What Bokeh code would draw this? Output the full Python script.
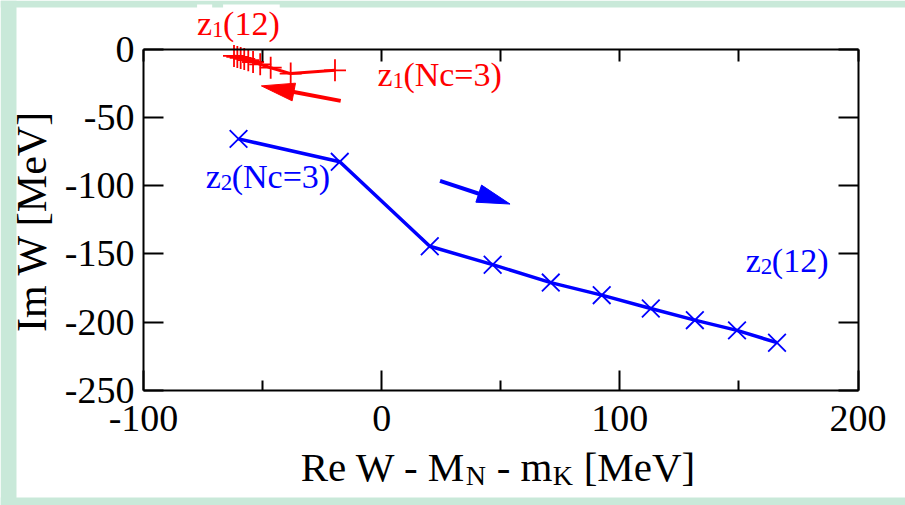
import math
from bokeh.plotting import figure
from bokeh.models import LinearAxis, FixedTicker, Range1d, Label, BoxAnnotation
from bokeh.embed import file_html
from bokeh.resources import INLINE

# ---------------- data ----------------
nc = [3, 4, 5, 6, 7, 8, 9, 10, 11, 12]
z1_re = [-19.6, -38.2, -46.6, -51.0, -54.0, -56.0, -57.7, -59.2, -60.6, -62.0]
z1_im = [-15.6, -18.0, -13.7, -11.2, -9.5, -8.2, -7.3, -6.5, -5.8, -5.1]
z2_re = [-60.1, -17.6, 20.2, 46.6, 71.0, 92.4, 113.0, 131.5, 149.2, 166.0]
z2_im = [-65.8, -82.6, -144.4, -157.9, -171.0, -180.2, -190.0, -198.5, -206.0, -215.0]

x_ticks = [-100, 0, 100, 200]
x_minor = [-50, 50, 150]
x_top_ticks = [-100, -50, 0, 50, 100, 150, 200]
y_ticks = [-250, -200, -150, -100, -50, 0]

# arrows: (tail, tip)
red_arrow = ((-17.2, -38.0), (-50.5, -27.0))
blue_arrow = ((24.5, -96.5), (53.9, -113.5))

# label anchors (data units)
lbl_z1_12 = (-77.5, 9.5)
lbl_z1_nc3 = (-1.8, -28.3)
lbl_z2_nc3 = (-73.9, -103.1)
lbl_z2_12 = (152.9, -164.5)
xlabel_anchor = (-34.0, -320.9)
ylabel_anchor = (-139.9, -126.0)

# ---------------- style / layout ----------------
FONT = "Liberation Serif"
RED = "#ff0000"
BLUE = "#0000ff"
GREEN_BG = "#c9e9d9"
X0, X1 = -100, 200
Y0, Y1 = -250, 0
FIG_W, FIG_H = 905, 505
BOX_L, BOX_R, BOX_T, BOX_B = 143.0, 857.5, 48.5, 390.0   # plot box inside the figure (px)
BAND_TOP, BAND_LEFT, BAND_BOTTOM = 7, 16, 8              # green page frame (px)
SX = (BOX_R - BOX_L) / (X1 - X0)
SY = (BOX_B - BOX_T) / (Y1 - Y0)
LBL_LIFT = 13      # px correction of text baseline for in-chart labels
XLBL_LIFT = 20
YLBL_SHIFT = -16

x_range = Range1d(X0 - BOX_L / SX, X1 + (FIG_W - BOX_R) / SX)
y_range = Range1d(Y0 - (FIG_H - BOX_B) / SY, Y1 + BOX_T / SY)

p = figure(width=FIG_W, height=FIG_H, x_range=x_range, y_range=y_range,
           output_backend="svg", toolbar_location=None,
           x_axis_location=None, y_axis_location=None, min_border=0)
p.background_fill_color = "white"
p.border_fill_color = "white"
p.outline_line_color = None
p.grid.visible = False

# green page frame bands (top, left, bottom)
band = dict(fill_color=GREEN_BG, fill_alpha=1, line_color=None, level="underlay")
p.add_layout(BoxAnnotation(bottom=Y1 + (BOX_T - BAND_TOP) / SY, **band))
p.add_layout(BoxAnnotation(right=X0 - (BOX_L - BAND_LEFT) / SX, **band))
p.add_layout(BoxAnnotation(top=Y0 - (FIG_H - BAND_BOTTOM - BOX_B) / SY, **band))

def mk_axis(ticks, minor, tin, minin, loc, bounds, standoff):
    return LinearAxis(ticker=FixedTicker(ticks=ticks, minor_ticks=minor),
                      fixed_location=loc, bounds=bounds,
                      axis_line_color="black", axis_line_width=2,
                      major_tick_in=tin, major_tick_out=0, major_tick_line_width=2,
                      major_tick_line_color="black",
                      minor_tick_in=minin, minor_tick_out=0, minor_tick_line_width=2,
                      minor_tick_line_color="black",
                      major_label_text_font=FONT, major_label_text_font_size="38px",
                      major_label_text_color="black", major_label_standoff=standoff,
                      major_label_overrides={t: str(t) for t in ticks})

p.add_layout(mk_axis(y_ticks, [], 20, 0, X0, (Y0, Y1), 9), "left")
p.add_layout(mk_axis(x_ticks, x_minor, 20, 10, Y0, (X0, X1), 15), "below")
p.add_layout(mk_axis([], x_top_ticks, 0, 12, Y1, (X0, X1), 5), "above")
p.add_layout(mk_axis([], y_ticks, 0, 20, X1, (Y0, Y1), 5), "right")

# ---------------- series ----------------
p.line(z1_re, z1_im, line_color=RED, line_width=3)
p.scatter(z1_re, z1_im, marker="cross", size=22, line_color=RED, line_width=1.8)
p.line(z2_re, z2_im, line_color=BLUE, line_width=3.5)
p.scatter(z2_re, z2_im, marker="x", size=25, line_color=BLUE, line_width=1.8)

# ---------------- arrows ----------------
def arrow(tail, tip, color, head_len=33, head_w=18, lw=4):
    dx = (tip[0] - tail[0]) * SX
    dy = (tip[1] - tail[1]) * SY
    L = math.hypot(dx, dy)
    ux, uy = dx / L, dy / L
    bx, by = -ux * head_len, -uy * head_len
    nx, ny = -uy * head_w / 2, ux * head_w / 2
    pts = [(0, 0), (bx + nx, by + ny), (bx - nx, by - ny)]
    xs = [tip[0] + a / SX for a, b in pts]
    ys = [tip[1] + b / SY for a, b in pts]
    p.line([tail[0], tip[0] + 0.8 * bx / SX], [tail[1], tip[1] + 0.8 * by / SY],
           line_color=color, line_width=lw)
    p.patch(xs, ys, fill_color=color, line_color=color, line_width=1)

arrow(*red_arrow, RED)
arrow(*blue_arrow, BLUE)

# ---------------- labels ----------------
def sub_label(anchor, parts, color, lift, bg=None):
    for text, size, dx, dy in parts:
        p.add_layout(Label(x=anchor[0], y=anchor[1], x_offset=dx, y_offset=dy + lift, text=text,
                           text_font=FONT, text_font_size=f"{size}px", text_color=color,
                           text_baseline="alphabetic", text_align="left",
                           background_fill_color=bg))

sub_label(lbl_z1_12, [("z", 34, 0, 0), ("(12)", 34, 26, 0), ("1", 23, 15, -6)], RED, LBL_LIFT,
          bg="white")
sub_label(lbl_z1_nc3, [("z", 34, 0, 0), ("1", 23, 15, -6), ("(Nc=3)", 34, 26, 0)], RED, LBL_LIFT)
sub_label(lbl_z2_nc3, [("z", 34, 0, 0), ("2", 23, 15, -6), ("(Nc=3)", 34, 26, 0)], BLUE, LBL_LIFT)
sub_label(lbl_z2_12, [("z", 34, 0, 0), ("2", 23, 15, -6), ("(12)", 34, 26, 0)], BLUE, LBL_LIFT)

sub_label(xlabel_anchor, [("Re W - M", 41, 0, 0), ("N", 28, 165, -8),
                          ("- m", 41, 196, 0), ("K", 28, 252, -8),
                          ("[MeV]", 41, 283, 0)], "black", XLBL_LIFT)

p.add_layout(Label(x=ylabel_anchor[0], y=ylabel_anchor[1], x_offset=YLBL_SHIFT,
                   text="Im W [MeV]",
                   text_font=FONT, text_font_size="42px", text_color="black",
                   text_baseline="alphabetic", text_align="center", angle=math.pi / 2))

open("out.html", "w").write(file_html(p, INLINE))
